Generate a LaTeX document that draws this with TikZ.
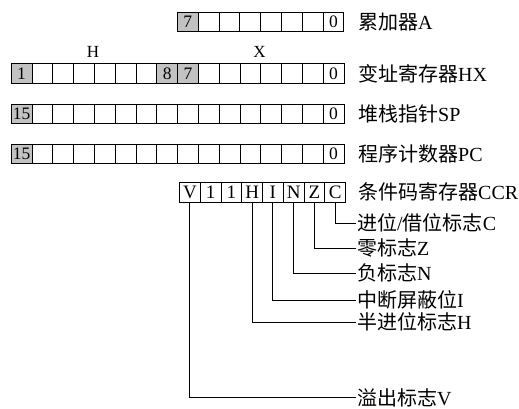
\documentclass[tikz,border=0pt]{standalone}
\usepackage{fontspec}
\setmainfont{Liberation Serif}
\newfontfamily\cjk{Noto Sans CJK SC}
\tikzset{
  cell/.style={draw, line width=1pt, minimum width=20.8pt, minimum height=19.5pt,
    inner sep=0pt, anchor=north west, font=\fontsize{17.5}{17.5}\selectfont},
  ccell/.style={cell, minimum width=20.75pt, font=\fontsize{19}{19}\selectfont},
  shd/.style={fill=black!24},
  pln/.style={},
  lbl/.style={anchor=west, inner sep=1pt, font=\fontsize{20}{22}\selectfont},
  hdr/.style={inner sep=0pt, font=\fontsize{17}{17}\selectfont},
  conn/.style={line width=1pt},
}
\begin{document}
\begin{tikzpicture}[x=1pt,y=-1pt]
\useasboundingbox (0,0) rectangle (519,409);
% Accumulator A
\foreach \i/\t/\s in {0/7/shd,1//pln,2//pln,3//pln,4//pln,5//pln,6//pln,7/0/pln}
  \node[cell,\s] (A\i) at ({176.9+\i*20.8},12) {\t};
% HX
\node[hdr] (hH) at (93,52) {H};
\node[hdr] (hX) at (259.5,52) {X};
\foreach \i/\t/\s in {0/1/shd,1//pln,2//pln,3//pln,4//pln,5//pln,6//pln,7/8/shd,8/7/shd,9//pln,10//pln,11//pln,12//pln,13//pln,14//pln,15/0/pln}
  \node[cell,\s] (HX\i) at ({10.7+\i*20.8},63.5) {\t};
% SP
\foreach \i/\t/\s in {0/15/shd,1//pln,2//pln,3//pln,4//pln,5//pln,6//pln,7//pln,8//pln,9//pln,10//pln,11//pln,12//pln,13//pln,14//pln,15/0/pln}
  \node[cell,\s] (SP\i) at ({10.7+\i*20.8},104) {\t};
% PC
\foreach \i/\t/\s in {0/15/shd,1//pln,2//pln,3//pln,4//pln,5//pln,6//pln,7//pln,8//pln,9//pln,10//pln,11//pln,12//pln,13//pln,14//pln,15/0/pln}
  \node[cell,\s] (PC\i) at ({10.7+\i*20.8},143.5) {\t};
% CCR
\foreach \i/\t in {0/V,1/1,2/1,3/H,4/I,5/N,6/Z,7/C}
  \node[ccell] (CCR\i) at ({179+\i*20.75},182) {\t};
% register labels
\node[lbl] (lA) at (357,22) {{\cjk 累加器}A};
\node[lbl] (lHX) at (357,73.5) {{\cjk 变址寄存器}HX};
\node[lbl] (lSP) at (357,114) {{\cjk 堆栈指针}SP};
\node[lbl] (lPC) at (357,153.5) {{\cjk 程序计数器}PC};
\node[lbl] (lCCR) at (357,192) {{\cjk 条件码寄存器}CCR};
% flag labels
\node[lbl] (fC) at (356,223) {{\cjk 进位}/{\cjk 借位标志}C};
\node[lbl] (fZ) at (356,248) {{\cjk 零标志}Z};
\node[lbl] (fN) at (356,273) {{\cjk 负标志}N};
\node[lbl] (fI) at (356,300) {{\cjk 中断屏蔽位}I};
\node[lbl] (fH) at (356,322) {{\cjk 半进位标志}H};
\node[lbl] (fV) at (356,397.5) {{\cjk 溢出标志}V};
% connectors
\draw[conn] (CCR7.south) |- (fC.west);
\draw[conn] (CCR6.south) |- (fZ.west);
\draw[conn] (CCR5.south) |- (fN.west);
\draw[conn] (CCR4.south) |- (fI.west);
\draw[conn] (CCR3.south) |- (fH.west);
\draw[conn] (CCR0.south) |- (fV.west);
\end{tikzpicture}
\end{document}
